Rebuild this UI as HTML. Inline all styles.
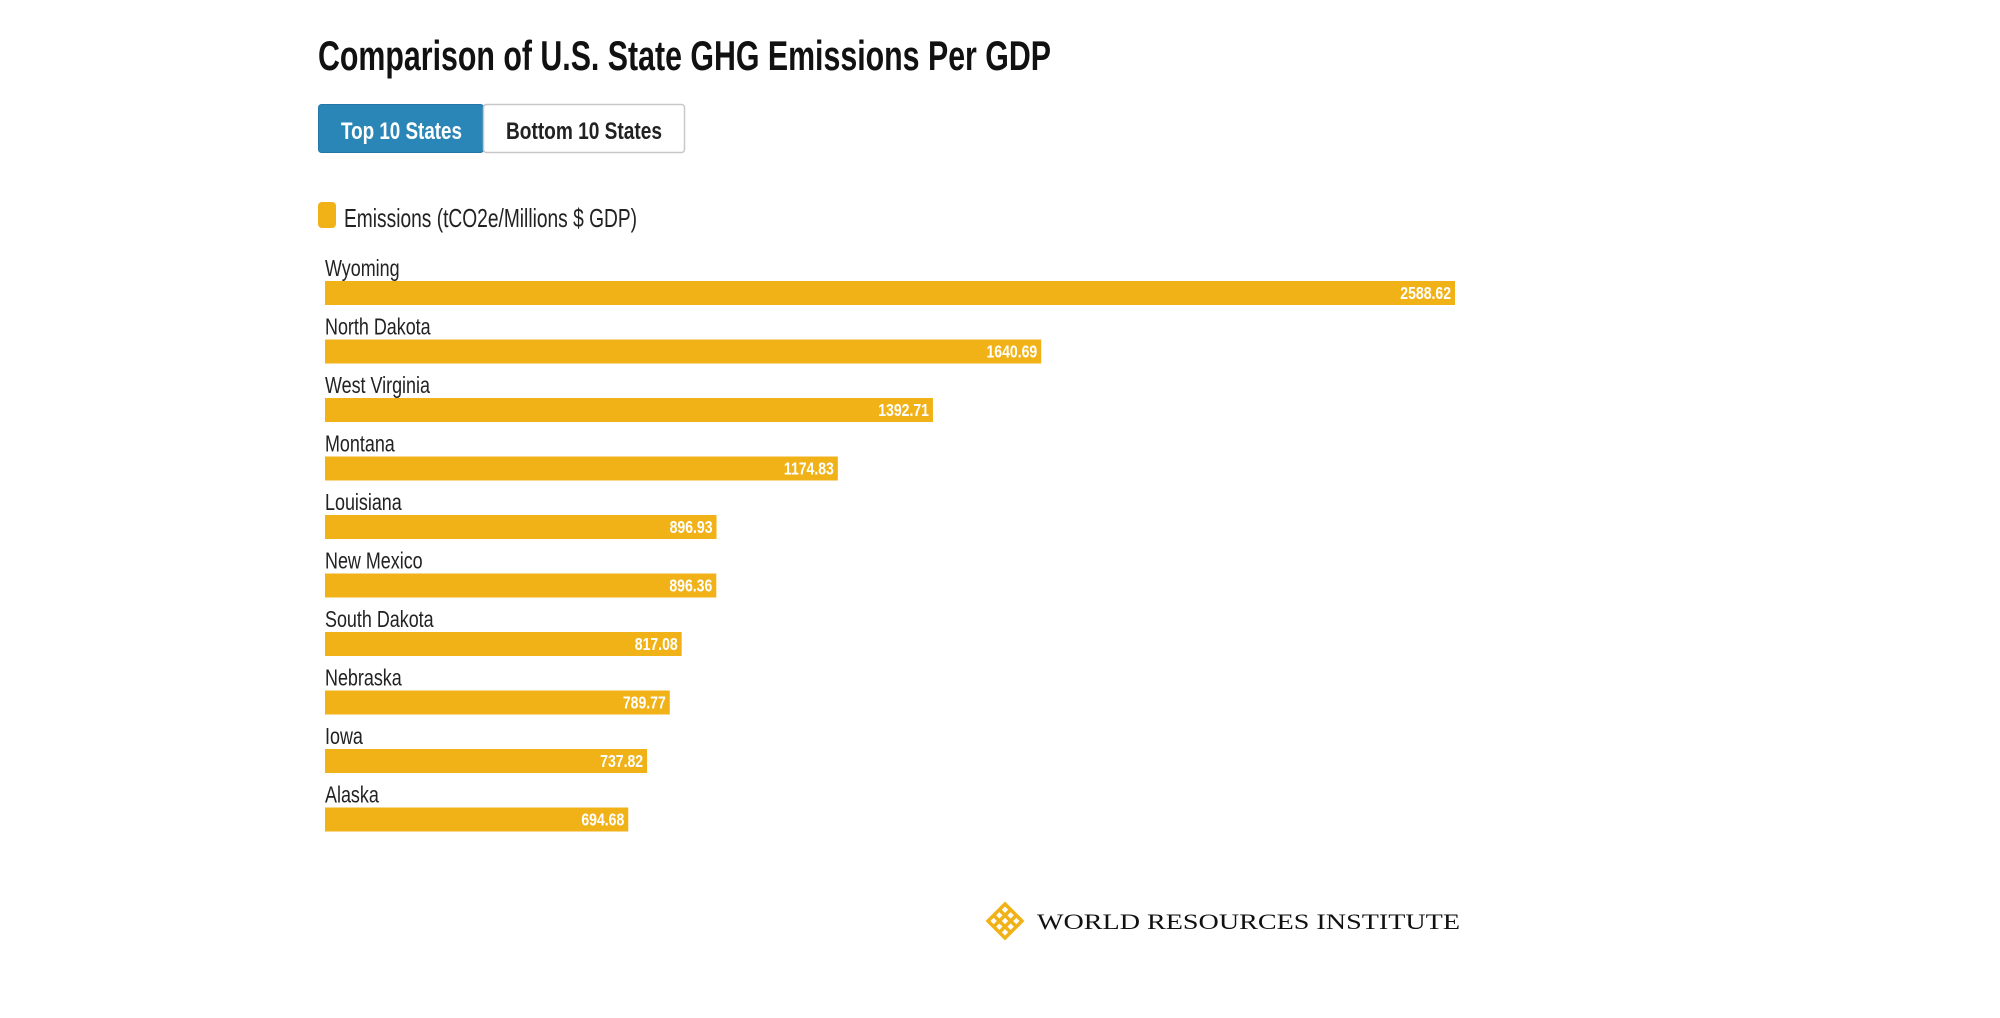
<!DOCTYPE html>
<html><head><meta charset="utf-8"><style>
html,body{margin:0;padding:0;background:#fff;}
svg{display:block;}
text{font-family:"Liberation Sans",sans-serif;}
</style></head><body>
<svg id="chart" width="2000" height="1018" viewBox="0 0 2000 1018" xmlns="http://www.w3.org/2000/svg">
<text x="318" y="70" font-size="42" font-weight="bold" fill="#111" textLength="733" lengthAdjust="spacingAndGlyphs">Comparison of U.S. State GHG Emissions Per GDP</text>
<g>
<rect x="318.5" y="104.5" width="165" height="48" rx="3" fill="#2b86b8" stroke="#2277a6"/>
<text x="341" y="139" font-size="24" font-weight="bold" fill="#fff" textLength="121" lengthAdjust="spacingAndGlyphs">Top 10 States</text>
</g>
<g>
<rect x="483.5" y="104.5" width="201" height="48" rx="3" fill="#fff" stroke="#c8c8c8" stroke-width="1.5"/>
<text x="506" y="139" font-size="24" font-weight="bold" fill="#222" textLength="156" lengthAdjust="spacingAndGlyphs">Bottom 10 States</text>
</g>
<g>
<rect x="318" y="202" width="18" height="26" rx="4" fill="#f1b218"/>
<text x="344" y="227" font-size="26" fill="#222" textLength="293" lengthAdjust="spacingAndGlyphs">Emissions (tCO2e/Millions $ GDP)</text>
</g>
<g id="bars"></g>
<g>
<g transform="translate(1005,921) rotate(45)" fill="none" stroke="#f1b218" stroke-width="3.5">
<rect x="-12" y="-12" width="24" height="24"/>
<line x1="-12" y1="-4" x2="12" y2="-4"/><line x1="-12" y1="4" x2="12" y2="4"/>
<line x1="-4" y1="-12" x2="-4" y2="12"/><line x1="4" y1="-12" x2="4" y2="12"/>
</g>
<text x="1037" y="929" font-size="22" fill="#111" textLength="423" lengthAdjust="spacingAndGlyphs" style="font-family:'Liberation Serif',serif">WORLD RESOURCES INSTITUTE</text>
</g>
</svg>
<script>
const states = ["Wyoming","North Dakota","West Virginia","Montana","Louisiana","New Mexico","South Dakota","Nebraska","Iowa","Alaska"];
const emissions = [2588.62,1640.69,1392.71,1174.83,896.93,896.36,817.08,789.77,737.82,694.68];
const valueLabels = ["2588.62","1640.69","1392.71","1174.83","896.93","896.36","817.08","789.77","737.82","694.68"];

const NS = "http://www.w3.org/2000/svg";
const x0 = 325, xMaxPx = 1130, maxVal = 2588.62;
function xScale(v){ return x0 + v / maxVal * xMaxPx; }
function yScale(i){ return 281 + i * 58.5; }
const g = document.getElementById('bars');
states.forEach((s, i) => {
  const y = yScale(i);
  const lab = document.createElementNS(NS, 'text');
  
  
  lab.setAttribute('transform', 'translate(' + x0 + ',' + (y - 5) + ') scale(0.78,1)');
  lab.setAttribute('font-size', '23');
  lab.setAttribute('fill', '#222');
  lab.textContent = s;
  g.appendChild(lab);
  const r = document.createElementNS(NS, 'rect');
  
  
  r.setAttribute('x', x0);
  r.setAttribute('y', y);
  r.setAttribute('width', xScale(emissions[i]) - x0);
  r.setAttribute('height', 24);
  r.setAttribute('fill', '#f1b218');
  g.appendChild(r);
  const v = document.createElementNS(NS, 'text');
  
  
  v.setAttribute('transform', 'translate(' + (xScale(emissions[i]) - 4) + ',' + (y + 18) + ') scale(0.78,1)');
  v.setAttribute('font-size', '18');
  v.setAttribute('font-weight', 'bold');
  v.setAttribute('fill', '#fff');
  v.setAttribute('text-anchor', 'end');
  v.textContent = valueLabels[i];
  g.appendChild(v);
});
</script>
</body></html>
